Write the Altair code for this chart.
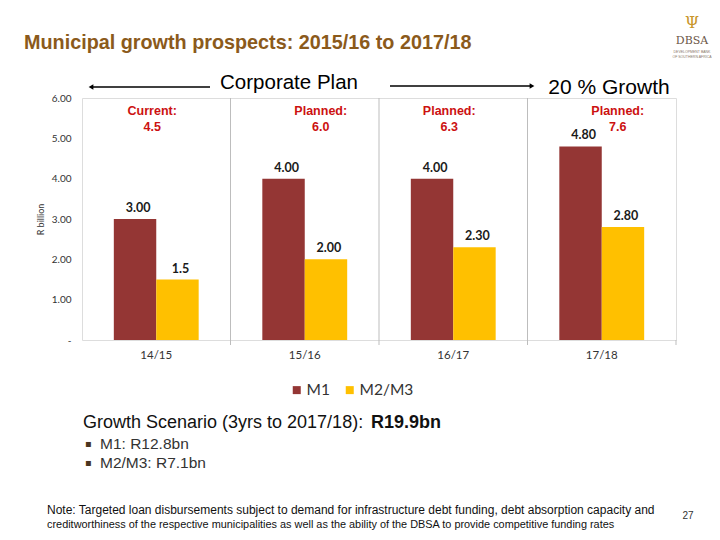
import altair as alt
import pandas as pd

# ---------------- data ----------------
periods = ["14/15", "15/16", "16/17", "17/18"]
series = ["M1", "M2/M3"]
colors = ["#943634", "#FFC000"]
m1_values = [3.00, 4.00, 4.00, 4.80]
m23_values = [1.5, 2.00, 2.30, 2.80]
m1_labels = ["3.00", "4.00", "4.00", "4.80"]
m23_labels = ["1.5", "2.00", "2.30", "2.80"]
plan_labels = ["Current:\n4.5", "Planned:\n6.0", "Planned:\n6.3", "Planned:\n7.6"]
plan_group = ["a", "b", "a", "b"]
y_ticks = [0, 1, 2, 3, 4, 5, 6]

title_text = "Municipal growth prospects: 2015/16 to 2017/18"
scenario_text = "Growth Scenario (3yrs to 2017/18):"
scenario_total = "R19.9bn"
bullets = ["M1: R12.8bn", "M2/M3: R7.1bn"]
note_lines = [
    "Note: Targeted loan disbursements subject to demand for infrastructure debt funding, debt absorption capacity and",
    "creditworthiness of the respective municipalities as well as the ability of the DBSA to provide competitive funding rates",
]

rows = []
for i, p in enumerate(periods):
    rows.append({"period": p, "series": "M1", "value": m1_values[i], "label": m1_labels[i]})
    rows.append({"period": p, "series": "M2/M3", "value": m23_values[i], "label": m23_labels[i]})
bars_df = pd.DataFrame(rows)
plan_df = pd.DataFrame({"period": periods, "plan": plan_labels, "grp": plan_group})
per_df = pd.DataFrame({"period": periods})

W, H = 594, 242
SANS = "Liberation Sans"
CAL = "Lato"


def X(**kw):
    return alt.X(
        "period:N",
        sort=periods,
        title=None,
        scale=alt.Scale(domain=periods, paddingInner=0, paddingOuter=0),
        axis=alt.Axis(labelFont=CAL, labelFontSize=11.5, labelColor="#333333",
                      labelPadding=9, ticks=False, domain=False, grid=False,
                      labelAngle=0),
        **kw,
    )


def Y():
    return alt.Y(
        "value:Q",
        title="R billion",
        scale=alt.Scale(domain=[0, 6], nice=False, zero=True),
        axis=alt.Axis(values=y_ticks, ticks=False, domain=False, grid=False,
                      labelExpr="datum.value == 0 ? '-\u00a0\u00a0\u00a0' : format(datum.value, '.2f')",
                      labelFont=CAL, labelFontSize=10, labelColor="#333333", labelPadding=11,
                      titleFont=CAL, titleFontSize=9, titleFontWeight="normal",
                      titleColor="#333333", titlePadding=6),
    )


XOFF = alt.XOffset("series:N", sort=series,
                   scale=alt.Scale(domain=series, paddingOuter=0.75, paddingInner=0))

bars = alt.Chart(bars_df).mark_bar().encode(
    x=X(),
    xOffset=XOFF,
    y=Y(),
    color=alt.Color(
        "series:N",
        scale=alt.Scale(domain=series, range=colors),
        legend=alt.Legend(orient="none", legendX=207, legendY=284, direction="horizontal",
                          title=None, symbolType="square", symbolSize=64,
                          symbolStrokeWidth=0, labelFont=CAL, labelFontSize=15.5,
                          labelColor="#333333", columnPadding=12, padding=0,
                          labelOffset=2),
    ),
)

value_text = alt.Chart(bars_df).mark_text(
    baseline="bottom", dy=-4, dx=3, font=CAL, fontWeight="bold", fontSize=12.5, color="#1a1a1a"
).encode(x=X(), xOffset=XOFF, y=Y(), text="label:N")

seps = alt.Chart(per_df).transform_filter(
    alt.FieldOneOfPredicate(field="period", oneOf=periods[:3])
).mark_rule(color="#bdbdbd", strokeWidth=1).encode(
    x=X(bandPosition=1), y=alt.value(0), y2=alt.value(H + 5)
)
edge = alt.Chart(per_df).transform_filter(
    alt.FieldEqualPredicate(field="period", equal=periods[3])
).mark_rule(color="#bdbdbd", strokeWidth=1).encode(
    x=X(bandPosition=1), y=alt.value(H), y2=alt.value(H + 5)
)

plan_a = alt.Chart(plan_df).transform_filter(alt.datum.grp == "a").mark_text(
    font=SANS, fontWeight="bold", fontSize=12.5, color="#CC1111", lineBreak="\n",
    lineHeight=16, baseline="middle", dx=-4
).encode(x=X(), y=alt.value(13), text="plan:N")
plan_b = alt.Chart(plan_df).transform_filter(alt.datum.grp == "b").mark_text(
    font=SANS, fontWeight="bold", fontSize=12.5, color="#CC1111", lineBreak="\n",
    lineHeight=16, baseline="middle", dx=16
).encode(x=X(), y=alt.value(13), text="plan:N")


def txt(s, x, y, **kw):
    opts = dict(baseline="middle")
    opts.update(kw)
    return alt.Chart(pd.DataFrame({"t": [s]})).mark_text(**opts).encode(
        x=alt.value(x), y=alt.value(y), text="t:N")


def hline(x1, x2, y, **kw):
    return alt.Chart(pd.DataFrame({"t": [0]})).mark_rule(**kw).encode(
        x=alt.value(x1), x2=alt.value(x2), y=alt.value(y))


def head(x, y, shape):
    return alt.Chart(pd.DataFrame({"t": [0]})).mark_point(
        shape=shape, filled=True, color="black", size=30, opacity=1).encode(
        x=alt.value(x), y=alt.value(y))


title = txt(title_text, -58, -55, align="left", font=SANS, fontWeight="bold",
            fontSize=19.8, color="#8B5A1B")
corp = txt("Corporate Plan", 207, -15, align="center", font=SANS, fontSize=20.5, color="#000000")
growth = txt("20 % Growth", 527, -10, align="center", font=SANS, fontSize=21, color="#000000")
arrow_l = hline(10, 128, -11, color="black", strokeWidth=1.5)
arrow_l_head = head(9, -11, "triangle-left")
arrow_r = hline(308, 449, -12, color="black", strokeWidth=1.5)
arrow_r_head = head(450, -12, "triangle-right")

scen = txt(scenario_text, 1, 325, align="left", font=SANS, fontSize=18, color="#111111")
scen_total = txt(scenario_total, 289, 325, align="left", font=SANS, fontSize=18,
                 fontWeight="bold", color="#111111")
b1 = txt("\u25aa", 3, 346, align="left", font="DejaVu Sans", fontSize=10, color="#4a3520")
b1t = txt(bullets[0], 18, 346, align="left", font=SANS, fontSize=15.5, color="#333333")
b2 = txt("\u25aa", 3, 365, align="left", font="DejaVu Sans", fontSize=10, color="#4a3520")
b2t = txt(bullets[1], 18, 365, align="left", font=SANS, fontSize=15.5, color="#333333")

note1 = txt(note_lines[0], -35, 412, align="left", font=SANS, fontSize=12.0, color="#111111")
note2 = txt(note_lines[1], -35, 427, align="left", font=SANS, fontSize=10.9, color="#111111")
page_no = txt("27", 606, 418, align="center", font=SANS, fontSize=10, color="#333333")

logo = txt("DBSA", 610, -57, align="center", font="DejaVu Serif", fontSize=11,
           color="#6b5646")
logo_s1 = txt("DEVELOPMENT BANK", 610, -46, align="center", font=SANS, fontSize=3.5,
              color="#8a7a6a")
logo_s2 = txt("OF SOUTHERN AFRICA", 610, -41, align="center", font=SANS, fontSize=3.5,
              color="#8a7a6a")
wheat = txt("\u03a8", 610, -75, align="center", font="DejaVu Serif", fontSize=16,
            color="#c9962c")

chart = alt.layer(
    seps, edge, bars, value_text, plan_a, plan_b,
    title, corp, growth, arrow_l, arrow_l_head, arrow_r, arrow_r_head,
    scen, scen_total, b1, b1t, b2, b2t, note1, note2, page_no,
    logo, logo_s1, logo_s2, wheat,
).properties(
    width=W, height=H,
    padding={"left": 74, "top": 90, "right": 36, "bottom": 192},
    autosize=alt.AutoSizeParams(type="none"),
).configure_view(
    stroke=None, fill="#f0f0f0"
).configure(background="white")

chart.save("out.html", embed_options={"renderer": "svg", "actions": False})
